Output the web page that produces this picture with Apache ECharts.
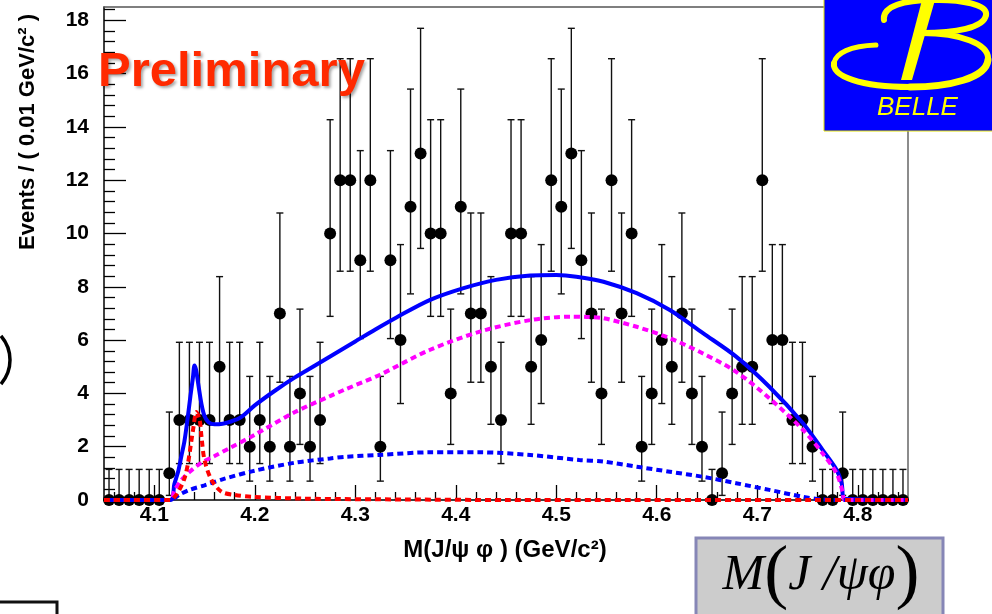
<!DOCTYPE html>
<html><head><meta charset="utf-8">
<script src="https://cdn.jsdelivr.net/npm/echarts@6/dist/echarts.min.js"></script>
<style>html,body{margin:0;padding:0;background:#fff;overflow:hidden}#c{width:992px;height:614px}</style>
</head><body><div id="c"></div>
<script>
// ---------- data ----------
const binCenters = [4.055,4.065,4.075,4.085,4.095,4.105,4.115,4.125,4.135,4.145,4.155,4.165,4.175,4.185,4.195,4.205,
  4.215,4.225,4.235,4.245,4.255,4.265,4.275,4.285,4.295,4.305,4.315,4.325,4.335,4.345,4.355,4.365,4.375,4.385,4.395,
  4.405,4.415,4.425,4.435,4.445,4.455,4.465,4.475,4.485,4.495,4.505,4.515,4.525,4.535,4.545,4.555,4.565,4.575,4.585,
  4.595,4.605,4.615,4.625,4.635,4.645,4.655,4.665,4.675,4.685,4.695,4.705,4.715,4.725,4.735,4.745,4.755,4.765,4.775,
  4.785,4.795,4.805,4.815,4.825,4.835,4.845];
const counts = [0,0,0,0,0,0,1,3,3,3,3,5,3,3,2,3,
  2,7,2,4,2,3,10,12,12,9,12,2,9,6,11,13,10,10,4,
  11,7,7,5,3,10,10,5,6,12,11,13,9,7,4,12,7,10,2,
  4,6,5,7,4,2,0,1,4,5,5,12,6,6,3,3,2,0,0,
  1,0,0,0,0,0,0];
// Poisson 68% interval bounds indexed by the count n
const poissonLow  = [0,0.173,0.708,1.367,2.086,2.840,3.620,4.419,5.232,6.057,6.891,7.734,8.585,9.441];
const poissonHigh = [1.148,3.300,4.638,5.918,7.163,8.382,9.584,10.77,11.95,13.11,14.27,15.42,16.56,17.70];

const xTickLabels = [4.1,4.2,4.3,4.4,4.5,4.6,4.7,4.8];
const yTickLabels = [0,2,4,6,8,10,12,14,16,18];

// fit curves: [mass, events]
const totalFit = [[4.05,0],[4.116,0],[4.120,0.6],[4.124,1.1],[4.127,1.65],[4.130,2.2],[4.133,3.0],[4.136,3.9],
  [4.1385,4.6],[4.140,5.05],[4.1415,4.9],[4.144,4.3],[4.147,3.6],[4.150,3.15],[4.154,2.92],[4.160,2.84],[4.168,2.86],
  [4.175,2.93],[4.186,3.1],[4.200,3.55],[4.220,4.1],[4.240,4.6],[4.260,5.05],[4.280,5.5],[4.300,5.95],[4.320,6.4],
  [4.341,6.85],[4.374,7.5],[4.407,7.94],[4.440,8.26],[4.474,8.42],[4.500,8.44],[4.520,8.38],[4.547,8.19],[4.580,7.76],
  [4.613,7.13],[4.646,6.26],[4.679,5.38],[4.712,4.25],[4.7455,2.88],[4.765,1.88],[4.779,1.13],[4.784,0.63],[4.787,0.05],[4.85,0]];
const phaseSpaceBkg = [[4.05,0],[4.116,0],[4.120,0.35],[4.127,0.75],[4.135,1.05],[4.147,1.4],[4.160,1.65],[4.175,1.95],
  [4.200,2.45],[4.240,3.3],[4.275,3.9],[4.290,4.15],[4.324,4.69],[4.374,5.63],[4.424,6.32],[4.474,6.75],[4.515,6.88],
  [4.530,6.87],[4.547,6.82],[4.580,6.5],[4.613,6.07],[4.646,5.5],[4.679,4.81],[4.712,3.82],[4.7455,2.63],[4.765,1.75],
  [4.779,1.0],[4.785,0.3],[4.787,0],[4.85,0]];
const otherBkg = [[4.05,0],[4.116,0],[4.125,0.2],[4.135,0.38],[4.150,0.55],[4.170,0.8],[4.200,1.1],[4.240,1.4],
  [4.275,1.56],[4.290,1.62],[4.324,1.69],[4.374,1.79],[4.424,1.79],[4.474,1.69],[4.523,1.5],[4.547,1.44],[4.580,1.25],
  [4.613,1.06],[4.646,0.87],[4.679,0.63],[4.712,0.38],[4.7455,0.12],[4.765,0.02],[4.787,0],[4.85,0]];
const signal = [[4.05,0],[4.116,0],[4.121,0.15],[4.125,0.38],[4.130,0.8],[4.1336,1.38],[4.1386,2.63],[4.142,3.3],
  [4.1452,3.0],[4.147,2.38],[4.150,1.5],[4.157,0.75],[4.167,0.31],[4.180,0.19],[4.197,0.12],[4.250,0.05],[4.350,0.02],
  [4.450,0],[4.85,0]];

// ---------- layout ----------
const X_MIN = 4.05, X_MAX = 4.85, Y_MIN = 0, Y_MAX = 18.5;
const F = "'Liberation Sans',Arial,sans-serif";
const minorX = [];
for (let i = 0; i < 40; i++) { const v = +(4.06 + i * 0.02).toFixed(2); if (Math.abs(v * 10 - Math.round(v * 10)) > 1e-6) minorX.push(v); }
const minorY = [];
for (let i = 1; i <= 46; i++) { const v = +(i * 0.4).toFixed(1); if (Math.abs(v / 2 - Math.round(v / 2)) > 1e-6) minorY.push(v); }

const chart = echarts.init(document.getElementById('c'), null, {renderer: 'canvas'});
const tickStyle = {color: '#000', width: 1.3};
const baseX = {type: 'value', min: X_MIN, max: X_MAX, splitLine: {show: false}};
const baseY = {type: 'value', min: Y_MIN, max: Y_MAX, splitLine: {show: false}};

const errData = binCenters.map((x, i) => [x, counts[i], poissonLow[counts[i]], poissonHigh[counts[i]]]);
const ptData = binCenters.map((x, i) => [x, counts[i]]);

function curve(name, data, color, width, dash, z) {
  return {name, type: 'line', data, showSymbol: false, smooth: 0.3, z, silent: true,
    lineStyle: {color, width, type: dash || 'solid'}};
}

const yellow = '#ffff00';
function bz(x1, y1, cpx1, cpy1, cpx2, cpy2, x2, y2, w) {
  return {type: 'bezierCurve', z: 101, shape: {x1, y1, cpx1, cpy1, cpx2, cpy2, x2, y2},
    style: {stroke: yellow, lineWidth: w || 6, fill: null, lineCap: 'round'}};
}

const option = {
  animation: false,
  backgroundColor: '#fff',
  grid: {left: 104, right: 84, top: 7, bottom: 114, containLabel: false, outerBoundsMode: 'none'},
  xAxis: [
    Object.assign({}, baseX, {position: 'bottom',
      axisLine: {show: true, onZero: false, lineStyle: {color: '#000', width: 1.5}},
      axisTick: {show: true, inside: true, length: 15, customValues: xTickLabels, lineStyle: tickStyle},
      axisLabel: {customValues: xTickLabels, formatter: v => v.toFixed(1), color: '#000', fontWeight: 'bold',
        fontSize: 21, fontFamily: F, margin: 5}}),
    Object.assign({}, baseX, {position: 'bottom',
      axisLine: {show: false, onZero: false},
      axisTick: {show: true, inside: true, length: 8, customValues: minorX, lineStyle: tickStyle},
      axisLabel: {show: false}}),
    Object.assign({}, baseX, {position: 'top',
      axisLine: {show: true, onZero: false, lineStyle: {color: '#555', width: 1.5}},
      axisTick: {show: false}, axisLabel: {show: false}})
  ],
  yAxis: [
    Object.assign({}, baseY, {position: 'left',
      axisLine: {show: true, onZero: false, lineStyle: {color: '#000', width: 1.5}},
      axisTick: {show: true, inside: true, length: 22, customValues: yTickLabels, lineStyle: tickStyle},
      axisLabel: {customValues: yTickLabels, color: '#000', fontWeight: 'bold', fontSize: 21, fontFamily: F, margin: 15}}),
    Object.assign({}, baseY, {position: 'left',
      axisLine: {show: false, onZero: false},
      axisTick: {show: true, inside: true, length: 11, customValues: minorY, lineStyle: tickStyle},
      axisLabel: {show: false}}),
    Object.assign({}, baseY, {position: 'right',
      axisLine: {show: true, onZero: false, lineStyle: {color: '#666', width: 1.5}},
      axisTick: {show: false}, axisLabel: {show: false}})
  ],
  series: [
    {type: 'custom', name: 'errors', data: errData, z: 2, silent: true,
      encode: {x: 0, y: [2, 3]},
      renderItem: function (params, api) {
        const x = api.value(0), lo = api.value(2), hi = api.value(3);
        const a = api.coord([x, hi]), b = api.coord([x, lo]);
        const s = {stroke: '#111', lineWidth: 1.4};
        return {type: 'group', children: [
          {type: 'line', shape: {x1: a[0], y1: a[1], x2: b[0], y2: b[1]}, style: s},
          {type: 'line', shape: {x1: a[0] - 3.5, y1: a[1], x2: a[0] + 3.5, y2: a[1]}, style: s},
          {type: 'line', shape: {x1: b[0] - 3.5, y1: b[1], x2: b[0] + 3.5, y2: b[1]}, style: s}
        ]};
      }},
    {type: 'scatter', name: 'data', data: ptData, symbol: 'circle', symbolSize: 12, z: 3, silent: true,
      itemStyle: {color: '#000', opacity: 1}},
    curve('total', totalFit, '#0000ff', 4, 'solid', 4),
    curve('phase space', phaseSpaceBkg, '#ff00ff', 4, [6, 4], 5),
    curve('other bkg', otherBkg, '#0000ff', 4, [6, 4], 5),
    curve('signal', signal, '#ff0000', 4, [6, 4], 6)
  ],
  graphic: [
    // Preliminary stamp
    {type: 'text', z: 100, x: 98, y: 72, style: {text: 'Preliminary', font: "bold 49px 'Liberation Sans', Arial, sans-serif",
      fill: '#ff2a00', verticalAlign: 'middle', align: 'left', textShadowColor: 'rgba(0,0,0,0.35)', textShadowBlur: 3,
      textShadowOffsetX: 2, textShadowOffsetY: 2}},
    // y-axis title
    {type: 'text', z: 100, x: 28, y: 132, rotation: Math.PI / 2,
      style: {text: 'Events / ( 0.01 GeV/c² )', font: "bold 22px 'Liberation Sans', Arial, sans-serif", fill: '#000',
        align: 'center', verticalAlign: 'middle'}},
    // x-axis title
    {type: 'text', z: 100, x: 505, y: 550,
      style: {text: 'M(J/ψ φ ) (GeV/c²)', font: "bold 24px " + F, fill: '#000', align: 'center', verticalAlign: 'middle'}},
    // BELLE logo
    {type: 'rect', z: 100, shape: {x: 824, y: -2, width: 170, height: 133}, style: {fill: '#0000ff', stroke: '#e0e000', lineWidth: 1}},
    bz(884, 20, 882, 6, 905, 0, 932, 0),
    bz(932, 0, 962, -1, 988, 5, 986, 15),
    bz(986, 15, 984, 28, 955, 33, 922, 33),
    bz(922, 33, 960, 33, 990, 44, 988, 60),
    bz(988, 60, 986, 78, 950, 87, 910, 87, 7),
    bz(910, 87, 860, 87, 832, 76, 834, 63, 6),
    bz(834, 63, 836, 53, 850, 46, 876, 45, 5),
    {type: 'polygon', z: 101, shape: {points: [[922, 0], [935, 0], [912, 80], [901, 80]]}, style: {fill: yellow}},
    {type: 'text', z: 101, x: 877, y: 108, style: {text: 'BELLE', font: "italic 26px 'Liberation Sans', Arial, sans-serif",
      fill: yellow, align: 'left', verticalAlign: 'middle'}},
    // slide leftovers: bracket on the left, box corner bottom-left
    {type: 'bezierCurve', z: 100, shape: {x1: 1, y1: 336, cpx1: 13, cpy1: 350, cpx2: 13, cpy2: 370, x2: 1, y2: 384},
      style: {stroke: '#000', lineWidth: 3.5, fill: null}},
    {type: 'polyline', z: 100, shape: {points: [[0, 602], [57, 602], [57, 614]]}, style: {stroke: '#111', lineWidth: 3, fill: null}},
    // formula box bottom-right
    {type: 'rect', z: 100, shape: {x: 696, y: 538, width: 247, height: 80}, style: {fill: '#cccccc', stroke: '#8686b6', lineWidth: 3}},
    {type: 'text', z: 101, x: 821, y: 576, style: {
      text: '{m|M}{p|(}{m|J /ψφ}{p|)}', align: 'center', verticalAlign: 'middle',
      rich: {
        m: {font: "italic 50px 'Liberation Serif', 'DejaVu Serif', serif", fill: '#000', verticalAlign: 'middle'},
        p: {font: "72px 'Liberation Serif', 'DejaVu Serif', serif", fill: '#000', verticalAlign: 'middle'}
      }}}
  ]
};
chart.setOption(option);
</script></body></html>
